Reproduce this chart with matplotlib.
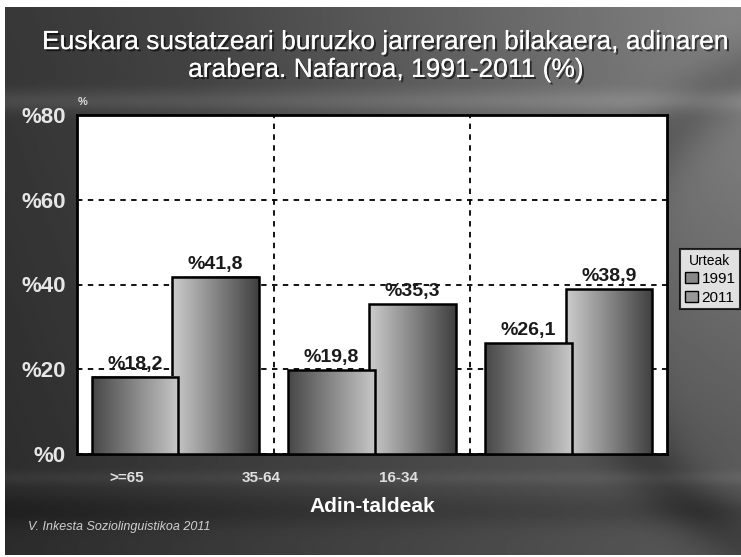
import numpy as np
import matplotlib
matplotlib.use("Agg")
import matplotlib.pyplot as plt
from matplotlib.patches import Rectangle
import matplotlib.patheffects as pe

plt.rcParams['font.family'] = ['Liberation Sans', 'DejaVu Sans']

categories = [">=65", "35-64", "16-34"]
series_names = ["1991", "2011"]
values_1991 = [18.2, 19.8, 26.1]
values_2011 = [41.8, 35.3, 38.9]
yticks = [0, 20, 40, 60, 80]
title = "Euskara sustatzeari buruzko jarreraren bilakaera, adinaren\narabera. Nafarroa, 1991-2011 (%)"
xlabel = "Adin-taldeak"
legend_title = "Urteak"
source = "V. Inkesta Soziolinguistikoa 2011"

W, H = 741, 557
fig = plt.figure(figsize=(W / 100, H / 100), dpi=100, facecolor="white")

# background panel
bg = fig.add_axes([5 / W, 2 / H, 736 / W, 548 / H])
bg.set_axis_off()
ny, nx = 300, 400
yy, xx = np.mgrid[0:1:ny * 1j, 0:1:nx * 1j]
base = 0.17 + 0.18 * xx + 0.05 * (1 - yy)
r = np.sqrt((xx - 1.15) ** 2 + ((yy - 0.05) * 1.2) ** 2)
base += 0.14 * np.clip(1 - r / 0.9, 0, 1)
r2 = np.sqrt((xx - 1.35) ** 2 + ((yy - 0.55) * 1.0) ** 2)
base -= 0.10 * np.exp(-((r2 - 0.55) / 0.05) ** 2)
base += 0.08 * np.exp(-((yy - 0.17) / 0.02) ** 2)
base += 0.04 * np.exp(-((yy - 0.86) / 0.012) ** 2)
base -= 0.05 * np.exp(-((yy - 0.92) / 0.03) ** 2)
base = np.clip(base, 0, 1)
bg.imshow(base, cmap="gray", vmin=0, vmax=1, aspect="auto", extent=[0, 1, 1, 0])
bg.set_xlim(0, 1)
bg.set_ylim(1, 0)

ax = fig.add_axes([77 / W, 103 / H, 590 / W, 339 / H])
ax.set_facecolor("white")
x = np.arange(len(categories))
width = 0.44
off = 0.205

ax.set_yticks(yticks)
ax.set_yticklabels(["%" + str(v) for v in yticks], color="#e6e6e6", fontsize=16, fontweight="bold")
ax.tick_params(axis="y", length=0, pad=8)
ax.set_xticks(x)
ax.set_xticklabels([])
ax.tick_params(axis="x", length=0)
ax.set_xticks(np.arange(0.5, len(categories) - 0.5, 1), minor=True)
ax.tick_params(axis="x", which="minor", length=0)
ax.grid(axis="y", which="major", color="black", linestyle=(0, (3, 3)), linewidth=1.3)
ax.grid(axis="x", which="minor", color="black", linestyle=(0, (3, 3)), linewidth=1.3)
ax.set_axisbelow(True)
for s in ax.spines.values():
    s.set_linewidth(2)
    s.set_color("black")

grad1 = np.linspace(0.28, 0.78, 100)[None, :]
grad2 = np.linspace(0.80, 0.25, 100)[None, :]

def draw(vals, pos, grad, z):
    bars = ax.bar(pos, vals, width, facecolor="none", edgecolor="black", linewidth=1.8, zorder=z + 1)
    for b in bars:
        x0, y0 = b.get_x(), b.get_y()
        w, h = b.get_width(), b.get_height()
        ax.imshow(grad, cmap="gray", vmin=0, vmax=1, aspect="auto",
                  extent=[x0, x0 + w, y0, y0 + h], zorder=z, interpolation="bilinear")
        ax.add_patch(Rectangle((x0, y0), w, h, facecolor="white", edgecolor="none", zorder=z - 0.5))
    return bars

draw(values_2011, x + off, grad2, 3)
draw(values_1991, x - off, grad1, 5)
ax.set_xlim(-0.5, len(categories) - 0.5)
ax.set_ylim(0, 80)

for xs, vals in ((x - off, values_1991), (x + off, values_2011)):
    for xi, v in zip(xs, vals):
        ax.annotate("%" + f"{v:.1f}".replace(".", ","), (xi, v), xytext=(0, 3),
                    textcoords="offset points", ha="center", va="bottom",
                    fontsize=14, fontweight="bold", color="#1a1a1a", zorder=10)

label_pos = [127, 261, 399]
for lab, px in zip(categories, label_pos):
    fig.text(px / W, 1 - 478 / H, lab, ha="center", va="center", color="#e0e0e0",
             fontsize=11, fontweight="bold")

fig.text(372 / W, 1 - 507 / H, xlabel, ha="center", va="center", color="white",
         fontsize=15, fontweight="bold")
shadow = [pe.withSimplePatchShadow(offset=(1.5, -1.5), shadow_rgbFace="black", alpha=0.6), pe.Normal()]
fig.text(386 / W, 1 - 56 / H, title, ha="center", va="center", color="white",
         fontsize=19, linespacing=1.2, path_effects=shadow)
fig.text(83 / W, 1 - 102 / H, "%", ha="center", va="center", color="#dddddd",
         fontsize=8, fontweight="bold")
fig.text(28 / W, 1 - 527 / H, source, ha="left", va="center", color="#d0d0d0",
         fontsize=9, style="italic")

handles = [Rectangle((0, 0), 1, 1, facecolor="#888888", edgecolor="black"),
           Rectangle((0, 0), 1, 1, facecolor="#999999", edgecolor="black")]
leg = fig.legend(handles, series_names, title=legend_title, loc="upper left",
                 bbox_to_anchor=(680 / W, 1 - 249 / H), frameon=True, fancybox=False,
                 fontsize=11, title_fontsize=10, handlelength=0.9, handleheight=0.7,
                 handletextpad=0.2, borderpad=0.3, labelspacing=0.3, borderaxespad=0)
leg.get_frame().set_edgecolor("black")
leg.get_frame().set_linewidth(1.5)

fig.savefig("out.png", dpi=100, facecolor="white")
